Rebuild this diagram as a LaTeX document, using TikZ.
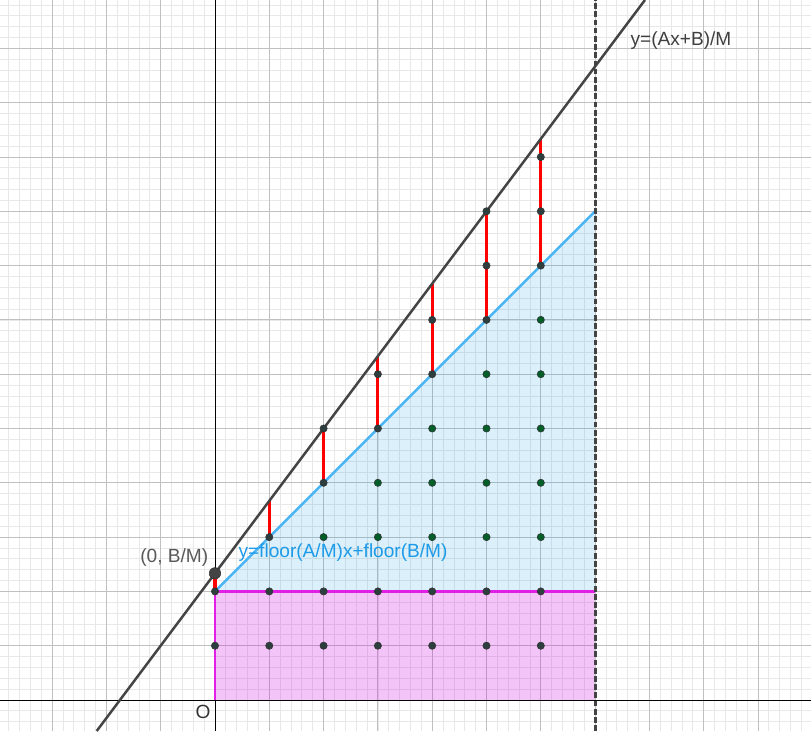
\documentclass[tikz,border=0pt]{standalone}
\usepackage{fontspec}
\setmainfont{Liberation Sans}
\definecolor{gridminor}{RGB}{232,232,232}
\definecolor{gridmajor}{RGB}{192,192,192}
\definecolor{linegray}{RGB}{68,68,68}
\definecolor{floorblue}{RGB}{74,180,245}
\definecolor{textblue}{RGB}{30,155,232}
\definecolor{bluefill}{RGB}{0,150,230}
\definecolor{pinkfill}{RGB}{200,0,220}
\definecolor{edgemag}{RGB}{225,30,230}
\definecolor{dotgreen}{RGB}{0,95,40}
\definecolor{dotgray}{RGB}{45,62,62}
\begin{document}
\begin{tikzpicture}[
  font=\fontsize{10}{12}\selectfont,
  minorgrid/.style={draw=gridminor, line width=0.4pt},
  majorgrid/.style={draw=gridmajor, line width=0.5pt},
  bigline/.style={draw=linegray, line width=1.3pt},
  floorline/.style={draw=floorblue, line width=1.3pt},
  gapline/.style={draw=red, line width=1.6pt},
  magline/.style={draw=edgemag, line width=1.2pt},
  dashline/.style={draw=linegray, line width=1.6pt, dash pattern=on 3pt off 1.3pt},
  dot/.style={fill=#1, draw=black!80, line width=0.3pt}
]
\useasboundingbox (-3.959,-0.571) rectangle (10.976,12.891);
\clip (-3.959,-0.571) rectangle (10.976,12.891);
\draw[minorgrid] (-3.959,-0.571) grid[step=0.2] (10.976,12.891);
\draw[majorgrid] (-3.959,-0.571) grid[step=1] (10.976,12.891);

\coordinate (O) at (0,0);
\coordinate (P) at (0,7/3);
\coordinate (Q) at (0,2);
\coordinate (R) at (7,2);
\coordinate (S) at (7,9);
\coordinate (lo) at (-2.178,-0.571);
\coordinate (hi) at (7.918,12.891);
\coordinate (dlo) at (7,-0.571);
\coordinate (dhi) at (7,12.891);

\fill[pinkfill, fill opacity=0.23] (O) rectangle (R);
\fill[bluefill, fill opacity=0.14] (Q) -- (S) -- (R) -- cycle;

\draw[black, line width=0.5pt] (-3.959,0) -- (10.976,0);
\draw[black, line width=0.5pt] (0,-0.571) -- (0,12.891);

\draw[magline] (O) -- (Q) -- (R);
\draw[floorline] (Q) -- (S);
\foreach \x in {0,...,6}
  \draw[gapline] (\x,\x+2) -- (\x,{(4*\x+7)/3});
\draw[bigline] (lo) -- (hi);
\draw[dashline] (dlo) -- (dhi);

\foreach \x in {0,...,6}
  \foreach \y in {1,2}
    \fill[dot=dotgray] (\x,\y) circle (1.9pt);
\foreach \x in {2,...,6} {
  \pgfmathtruncatemacro\ytop{\x+1}
  \foreach \y in {3,...,\ytop}
    \fill[dot=dotgreen] (\x,\y) circle (1.9pt);
}
\foreach \x in {1,...,6}
  \fill[dot=dotgray] (\x,\x+2) circle (1.9pt);
\foreach \x/\y in {2/5,3/6,4/7,5/8,5/9,6/9,6/10}
  \fill[dot=dotgray] (\x,\y) circle (1.9pt);
\fill[dot=linegray] (P) circle (0.105);

\node[anchor=east, text=black!65] (plabel) at (0.0,2.63) {(0, B/M)};
\node[anchor=west, text=textblue] (flabel) at (0.31,2.71) {y=floor(A/M)x+floor(B/M)};
\node[anchor=west, text=black!75] (llabel) at (7.53,12.14) {y=(Ax+B)/M};
\node[text=black!80] (olabel) at (-0.22,-0.22) {O};
\end{tikzpicture}
\end{document}
